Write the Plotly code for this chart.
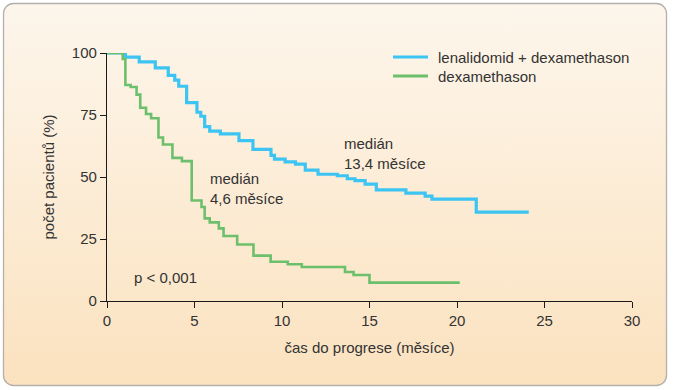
import base64
import plotly.graph_objects as go

# Kaplan-Meier step data (time in months, % of patients without progression)
len_dex_t = [0, 1.05, 1.84, 2.76, 3.5, 3.87, 4.1, 4.55, 5.14, 5.36, 5.58, 5.87, 6.48, 7.54, 8.34,
             9.37, 9.57, 10.18, 10.77, 11.33, 12.06, 13.16, 13.73, 14.17, 14.75, 15.39, 17.08,
             18.18, 18.57, 21.1, 24.1]
len_dex_y = [100, 98.3, 96.4, 94, 91, 89.1, 86.6, 80, 76.1, 74.5, 70.3, 68.5, 67.4, 64.7, 61.1,
             58.7, 57.2, 56.1, 55.2, 52.8, 51.1, 50.5, 49.3, 48.5, 47.1, 44.8, 43.5,
             42.3, 41.1, 35.8, 35.8]

dex_t = [0, 0.9, 1.05, 1.35, 1.69, 1.9, 2.23, 2.52, 2.94, 3.2, 3.74, 4.28, 4.84, 5.4, 5.58, 5.87,
         6.39, 6.66, 7.44, 8.37, 9.35, 10.33, 11.13, 13.6, 14.09, 15.0, 20.16]
dex_y = [100, 97.6, 87.1, 86.3, 83.2, 77.9, 75.4, 73.7, 65.9, 63.1, 57.7, 56.4, 40.5, 37.9, 33.3, 31.7,
         29.3, 26.2, 22.8, 18.3, 15.8, 14.8, 13.7, 11.7, 10.5, 7.4, 7.4]

series_names = ["lenalidomid + dexamethason", "dexamethason"]
series_colors = ["#3cc4f2", "#6cc06c"]
x_ticks = [0, 5, 10, 15, 20, 25, 30]
y_ticks = [0, 25, 50, 75, 100]

W, H = 673, 390
L, R, T, B = 107, 41, 53, 89
PW, PH = W - L - R, H - T - B

FONT = "Liberation Sans, Arial, sans-serif"
TXT = "#333333"
FS = 15

svg = f'''<svg xmlns="http://www.w3.org/2000/svg" width="{W}" height="{H}" viewBox="0 0 {W} {H}">
<defs><linearGradient id="g" x1="0" y1="0" x2="0" y2="1">
<stop offset="0" stop-color="#fdf6ec"/><stop offset="1" stop-color="#fbe2bf"/></linearGradient></defs>
<rect x="0" y="0" width="{W}" height="{H}" fill="#ffffff"/>
<rect x="3.5" y="3.5" width="663" height="382" rx="10" ry="10" fill="url(#g)" stroke="#b4b0aa" stroke-width="1.3"/>
</svg>'''
bg = "data:image/svg+xml;base64," + base64.b64encode(svg.encode()).decode()

fig = go.Figure()
fig.add_trace(go.Scatter(x=len_dex_t, y=len_dex_y, mode="lines",
                         line=dict(shape="hv", color=series_colors[0], width=3.2),
                         name=series_names[0], cliponaxis=False, showlegend=False))
fig.add_trace(go.Scatter(x=dex_t, y=dex_y, mode="lines",
                         line=dict(shape="hv", color=series_colors[1], width=2.6),
                         name=series_names[1], cliponaxis=False, showlegend=False))

fig.add_layout_image(dict(source=bg, xref="paper", yref="paper",
                          x=-L / PW, y=1 + T / PH, sizex=W / PW, sizey=H / PH,
                          xanchor="left", yanchor="top", sizing="stretch", layer="below"))

# legend drawn manually (pixel-positioned in paper coordinates)
def px(xp):
    return (xp - L) / PW

def py(yp):
    return 1 - (yp - T) / PH

for i, (name, col) in enumerate(zip(series_names, series_colors)):
    yc = 57 + 19 * i
    fig.add_shape(type="line", xref="paper", yref="paper", x0=px(393), x1=px(428), y0=py(yc), y1=py(yc),
                  line=dict(color=col, width=3.2 if i == 0 else 2.8))
    fig.add_annotation(xref="paper", yref="paper", x=px(436), y=py(yc), text=name, showarrow=False,
                       xanchor="left", yanchor="middle", font=dict(family=FONT, size=FS, color=TXT))

ann = [
    (13.4, 59.5, "medián<br>13,4 měsíce"),
    (5.75, 45.5, "medián<br>4,6 měsíce"),
    (1.45, 9.5, "p < 0,001"),
]
for x, y, t in ann:
    fig.add_annotation(x=x, y=y, text=t, showarrow=False, xanchor="left", yanchor="middle", align="left",
                       font=dict(family=FONT, size=FS, color=TXT))

axis_common = dict(showgrid=False, zeroline=False, showline=True, linecolor="#1a1a1a", linewidth=1.2,
                   ticks="outside", ticklen=6, tickwidth=1.2, tickcolor="#1a1a1a",
                   tickfont=dict(family=FONT, size=FS, color=TXT))

fig.update_layout(
    width=W, height=H,
    margin=dict(l=L, r=R, t=T, b=B),
    paper_bgcolor="white", plot_bgcolor="rgba(0,0,0,0)",
    showlegend=False,
    xaxis=dict(range=[0, 30], tickvals=x_ticks, ticktext=[str(v) for v in x_ticks],
               title=dict(text="čas do progrese (měsíce)", standoff=14, font=dict(family=FONT, size=FS, color=TXT)),
               **axis_common),
    yaxis=dict(range=[0, 100], tickvals=y_ticks, ticktext=[str(v) for v in y_ticks],
               title=dict(text="počet pacientů (%)", standoff=13, font=dict(family=FONT, size=FS, color=TXT)),
               **axis_common),
)

fig.write_html("out.html", config={"displayModeBar": False},
               post_script="document.body.style.margin='0';")
